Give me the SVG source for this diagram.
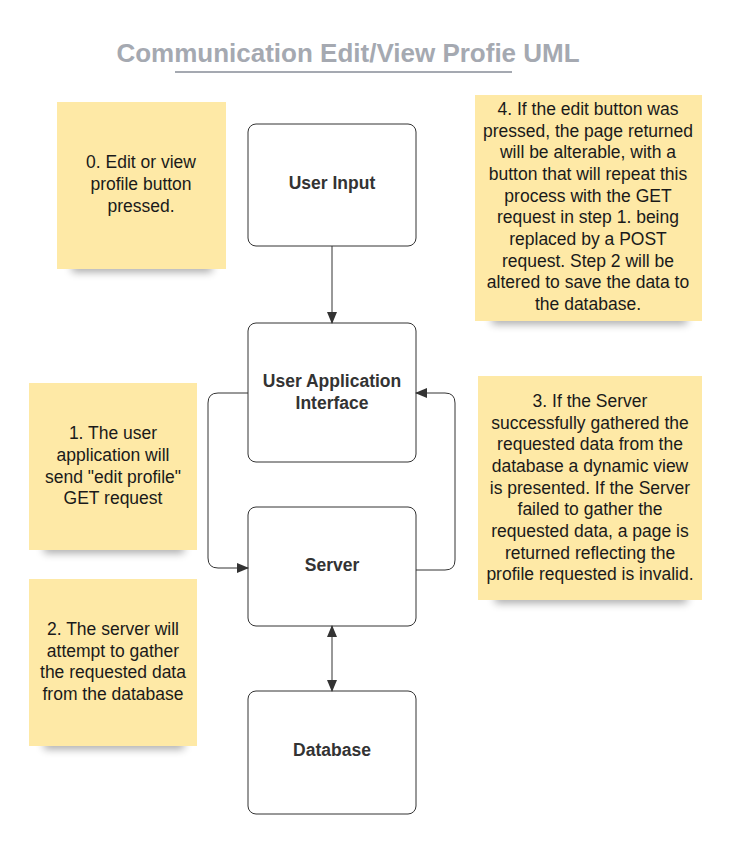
<svg xmlns="http://www.w3.org/2000/svg" width="745" height="847" viewBox="0 0 745 847">
<defs>
<style>
.note{fill:#fee9a6}
.shadow{fill:#000;opacity:0.35;filter:url(#blur)}
.box{fill:#fff;stroke:#333;stroke-width:1}
.nt{font-family:"Liberation Sans",Arial,sans-serif;font-size:17.5px;fill:#1a1a1a;text-anchor:middle}
.bt{font-family:"Liberation Sans",Arial,sans-serif;font-size:17.5px;font-weight:bold;fill:#333;text-anchor:middle}
.ln{fill:none;stroke:#333;stroke-width:1}
</style>
<filter id="blur" x="-20%" y="-200%" width="140%" height="500%"><feGaussianBlur stdDeviation="4"/></filter>
<marker id="ah" markerWidth="12" markerHeight="12" refX="11" refY="6" orient="auto" markerUnits="userSpaceOnUse">
<path d="M0,1 L12,6 L0,11 Z" fill="#333"/>
</marker>
<marker id="as" markerWidth="12" markerHeight="12" refX="1" refY="6" orient="auto" markerUnits="userSpaceOnUse">
<path d="M12,1 L0,6 L12,11 Z" fill="#333"/>
</marker>
</defs>
<rect width="745" height="847" fill="#fff"/>
<g id="title">
<text x="348" y="62" font-family="Liberation Sans,Arial,sans-serif" font-size="26" font-weight="bold" fill="#a5a9b1" text-anchor="middle">Communication Edit/View Profie UML</text>
<line x1="175" y1="72" x2="512" y2="72" stroke="#a5a9b1" stroke-width="2"/>
</g>
<g id="note0">
<rect class="shadow" x="72" y="262" width="140" height="10"/>
<rect class="note" x="57" y="102" width="169" height="167"/>
<text class="nt"><tspan x="141" y="168">0. Edit or view</tspan><tspan x="141" y="190">profile button</tspan><tspan x="141" y="212">pressed.</tspan></text>
</g>
<g id="note1">
<rect class="shadow" x="44" y="543" width="140" height="10"/>
<rect class="note" x="29" y="383" width="168" height="167"/>
<text class="nt"><tspan x="113" y="439">1. The user</tspan><tspan x="113" y="461">application will</tspan><tspan x="113" y="483">send "edit profile"</tspan><tspan x="113" y="504">GET request</tspan></text>
</g>
<g id="note2">
<rect class="shadow" x="44" y="739" width="140" height="10"/>
<rect class="note" x="29" y="579" width="168" height="167"/>
<text class="nt"><tspan x="113" y="635">2. The server will</tspan><tspan x="113" y="657">attempt to gather</tspan><tspan x="113" y="678">the requested data</tspan><tspan x="113" y="700">from the database</tspan></text>
</g>
<g id="note4">
<rect class="shadow" x="492" y="314" width="195" height="10"/>
<rect class="note" x="475" y="95" width="227" height="226"/>
<text class="nt"><tspan x="588" y="115">4. If the edit button was</tspan><tspan x="588" y="137">pressed, the page returned</tspan><tspan x="588" y="158">will be alterable, with a</tspan><tspan x="588" y="180">button that will repeat this</tspan><tspan x="588" y="202">process with the GET</tspan><tspan x="588" y="223">request in step 1. being</tspan><tspan x="588" y="245">replaced by a POST</tspan><tspan x="588" y="267">request. Step 2 will be</tspan><tspan x="588" y="288">altered to save the data to</tspan><tspan x="588" y="310">the database.</tspan></text>
</g>
<g id="note3">
<rect class="shadow" x="495" y="593" width="192" height="10"/>
<rect class="note" x="478" y="376" width="224" height="224"/>
<text class="nt"><tspan x="590" y="407">3. If the Server</tspan><tspan x="590" y="429">successfully gathered the</tspan><tspan x="590" y="450">requested data from the</tspan><tspan x="590" y="472">database a dynamic view</tspan><tspan x="590" y="494">is presented. If the Server</tspan><tspan x="590" y="515">failed to gather the</tspan><tspan x="590" y="537">requested data, a page is</tspan><tspan x="590" y="559">returned reflecting the</tspan><tspan x="590" y="580">profile requested is invalid.</tspan></text>
</g>
<g id="userInput">
<rect class="box" x="248" y="124" width="168" height="122" rx="8"/>
<text class="bt" x="332" y="189">User Input</text>
</g>
<g id="uai">
<rect class="box" x="248" y="323" width="168" height="139" rx="8"/>
<text class="bt" x="332" y="387">User Application</text>
<text class="bt" x="332" y="409">Interface</text>
</g>
<g id="server">
<rect class="box" x="248" y="507" width="168" height="119" rx="8"/>
<text class="bt" x="332" y="571">Server</text>
</g>
<g id="database">
<rect class="box" x="248" y="691" width="168" height="123" rx="8"/>
<text class="bt" x="332" y="756">Database</text>
</g>
<g id="connectors">
<path class="ln" d="M332,246 L332,323" marker-end="url(#ah)"/>
<path class="ln" d="M248,393 L218,393 Q208,393 208,403 L208,558 Q208,568 218,568 L248,568" marker-end="url(#ah)"/>
<path class="ln" d="M416,570 L445,570 Q455,570 455,560 L455,403 Q455,393 445,393 L416,393" marker-end="url(#ah)"/>
<path class="ln" d="M332,626 L332,691" marker-start="url(#as)" marker-end="url(#ah)"/>
</g>
</svg>
